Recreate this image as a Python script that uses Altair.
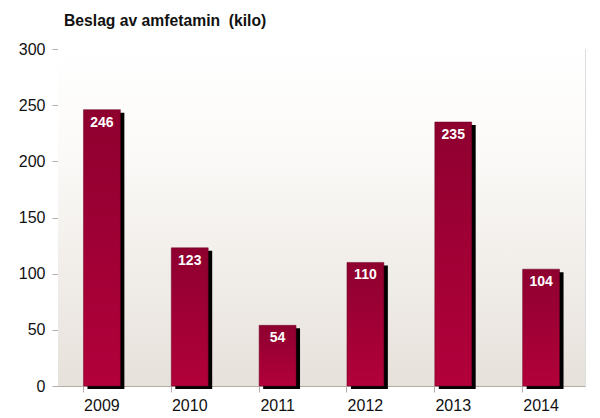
import altair as alt
import pandas as pd

years = ["2009", "2010", "2011", "2012", "2013", "2014"]
values = [246, 123, 54, 110, 235, 104]
title_text = "Beslag av amfetamin\u00a0 (kilo)"

df = pd.DataFrame({"year": years, "value": values})

W, H = 527, 337
FONT = "Liberation Sans"

xenc = alt.X("year:N", sort=years, title=None,
             scale=alt.Scale(paddingInner=0.58, paddingOuter=0.29),
             axis=alt.Axis(labelAngle=0, labelFontSize=16, labelFont=FONT, labelColor="#111",
                           domainColor="#b5ada5", tickColor="#b5ada5", tickSize=6,
                           labelPadding=5, bandPosition=0, grid=False))
yscale = alt.Scale(domain=[0, 300])
yaxis = alt.Axis(values=[0, 50, 100, 150, 200, 250, 300], labelFontSize=16, labelFont=FONT,
                 labelColor="#111", domainColor="#b5ada5", tickColor="#b5ada5", tickSize=6,
                 labelPadding=7, gridColor="#e6e0d9", gridWidth=1, title=None)

bg = alt.Chart(df).mark_rect(
    color=alt.Gradient(gradient="linear", x1=0, y1=0, x2=0, y2=1,
                       stops=[alt.GradientStop(color="#ffffff", offset=0),
                              alt.GradientStop(color="#fbfaf8", offset=0.3),
                              alt.GradientStop(color="#e7e1db", offset=1)])
).encode(x=alt.value(0), x2=alt.value(W), y=alt.value(0), y2=alt.value(H))

base = alt.Chart(df)

shadow = base.mark_bar(color="black", xOffset=4, yOffset=3, y2Offset=0).encode(
    x=xenc, y=alt.Y("value:Q", scale=yscale, axis=yaxis))

bars = base.mark_bar(
    color=alt.Gradient(gradient="linear", x1=0, y1=0, x2=0, y2=1,
                       stops=[alt.GradientStop(color="#8e002f", offset=0),
                              alt.GradientStop(color="#b2003b", offset=1)]),
    stroke="#6a0022", strokeWidth=0.5
).encode(x=xenc, y=alt.Y("value:Q", scale=yscale, axis=yaxis))

labels = base.mark_text(color="white", fontWeight="bold", fontSize=14, font=FONT,
                        baseline="top", dy=6).encode(
    x=xenc, y=alt.Y("value:Q", scale=yscale), text="value:Q")

title = alt.Chart(pd.DataFrame({"t": [title_text]})).mark_text(
    align="left", baseline="middle", fontWeight="bold", fontSize=15.7, font=FONT, color="#111"
).encode(x=alt.value(6), y=alt.value(-28), text="t:N")

chart = alt.layer(bg, shadow, bars, labels, title).properties(
    width=W, height=H,
    autosize=alt.AutoSizeParams(type="none"),
    padding={"left": 58, "top": 49, "right": 15, "bottom": 32},
).configure_view(stroke="#cfc8c1", strokeWidth=1).configure(background="white")

chart.save("out.html", embed_options={"renderer": "svg", "actions": False})
